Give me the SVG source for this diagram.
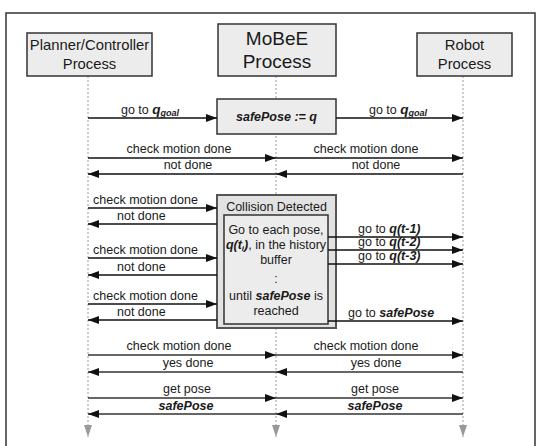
<svg xmlns="http://www.w3.org/2000/svg" width="542" height="446" viewBox="0 0 542 446">
<style>
text{font-family:"Liberation Sans",Arial,sans-serif;fill:#1a1a1a;}
.lbl{font-size:12.5px;text-anchor:middle;}
.lbls{font-size:12.5px;}
.hdr{font-size:14.8px;text-anchor:middle;}
.big{font-size:19px;text-anchor:middle;}
.bi{font-weight:bold;font-style:italic;}
.box{fill:#ececec;stroke:#333;stroke-width:1.5;}
.life{stroke:#999;stroke-width:1;stroke-dasharray:2,2;fill:none;}
.arr{stroke:#111;stroke-width:1.5;fill:none;marker-end:url(#ah);}
.arr2{stroke:#333;stroke-width:1.5;fill:none;marker-end:url(#ah);}
</style>
<defs>
<marker id="ah" markerUnits="userSpaceOnUse" markerWidth="11" markerHeight="8" refX="11" refY="4" orient="auto"><path d="M0,0 L11,4 L0,8 z" fill="#111"/></marker>
<marker id="gh" markerUnits="userSpaceOnUse" markerWidth="8" markerHeight="12" refX="4" refY="12" orient="0"><path d="M0,0 L8,0 L4,12 z" fill="#999"/></marker>
</defs>
<rect x="0" y="0" width="542" height="446" fill="#fff"/>
<rect x="6" y="13" width="529" height="445" fill="none" stroke="#333" stroke-width="1.5"/>

<g id="lifelines">
<line class="life" x1="88" y1="76" x2="88" y2="437" marker-end="url(#gh)"/>
<line class="life" x1="276" y1="76" x2="276" y2="437" marker-end="url(#gh)"/>
<line class="life" x1="463" y1="76" x2="463" y2="437" marker-end="url(#gh)"/>
</g>

<g id="planner">
<rect class="box" x="27" y="33" width="125" height="43"/>
<text class="hdr" x="89.5" y="50">Planner/Controller</text>
<text class="hdr" x="89.5" y="69">Process</text>
</g>
<g id="mobee">
<rect class="box" x="218" y="24" width="118" height="52"/>
<text class="big" x="277" y="45">MoBeE</text>
<text class="big" x="277" y="68">Process</text>
</g>
<g id="robot">
<rect class="box" x="417" y="33" width="95" height="43"/>
<text class="hdr" x="464.5" y="50">Robot</text>
<text class="hdr" x="464.5" y="69">Process</text>
</g>
<g id="safepose-box">
<rect class="box" x="217" y="99" width="119" height="35"/>
<text class="lbl bi" x="276.5" y="121">safePose := q</text>
</g>
<g id="collision">
<rect x="217" y="195" width="119" height="133" fill="#e2e2e2" stroke="#555" stroke-width="2"/>
<text class="lbl" x="276.5" y="211" font-size="13">Collision Detected</text>
<rect x="224" y="215" width="104" height="109" fill="#ececec" stroke="#333" stroke-width="1.5"/>
<text class="lbl" x="276" y="234">Go to each pose,</text>
<text class="lbl" x="276" y="249"><tspan class="bi">q(t</tspan><tspan class="bi" font-size="8" dy="2">i</tspan><tspan class="bi" dy="-2">)</tspan>, in the history</text>
<text class="lbl" x="276" y="264">buffer</text>
<text class="lbl" x="276" y="283">:</text>
<text class="lbl" x="276" y="300">until <tspan class="bi">safePose</tspan> is</text>
<text class="lbl" x="276" y="315">reached</text>
</g>

<g id="connectors">
<line class="arr" x1="88" y1="118" x2="217" y2="118"/>
<line class="arr" x1="336" y1="118" x2="463" y2="118"/>
<line class="arr" x1="88" y1="158" x2="276" y2="158"/>
<line class="arr" x1="276" y1="158" x2="463" y2="158"/>
<line class="arr" x1="276" y1="174" x2="88" y2="174"/>
<line class="arr" x1="463" y1="174" x2="276" y2="174"/>
<line class="arr" x1="88" y1="208" x2="217" y2="208"/>
<line class="arr" x1="217" y1="224" x2="88" y2="224"/>
<line class="arr" x1="88" y1="258" x2="217" y2="258"/>
<line class="arr" x1="217" y1="275" x2="88" y2="275"/>
<line class="arr" x1="88" y1="304" x2="217" y2="304"/>
<line class="arr" x1="217" y1="320" x2="88" y2="320"/>
<line class="arr" x1="328" y1="237" x2="463" y2="237"/>
<line class="arr" x1="328" y1="250" x2="463" y2="250"/>
<line class="arr" x1="328" y1="264" x2="463" y2="264"/>
<line class="arr" x1="328" y1="321" x2="463" y2="321"/>
<line class="arr2" x1="88" y1="355" x2="276" y2="355"/>
<line class="arr2" x1="276" y1="355" x2="463" y2="355"/>
<line class="arr2" x1="276" y1="372" x2="88" y2="372"/>
<line class="arr2" x1="463" y1="372" x2="276" y2="372"/>
<line class="arr2" x1="88" y1="398" x2="276" y2="398"/>
<line class="arr2" x1="276" y1="398" x2="463" y2="398"/>
<line class="arr2" x1="276" y1="414" x2="88" y2="414"/>
<line class="arr2" x1="463" y1="414" x2="276" y2="414"/>

<text class="lbl" x="150" y="114">go to <tspan class="bi" font-size="13.5">q</tspan><tspan class="bi" font-size="9" dy="2">goal</tspan></text>
<text class="lbl" x="398" y="114">go to <tspan class="bi" font-size="13.5">q</tspan><tspan class="bi" font-size="9" dy="2">goal</tspan></text>
<text class="lbl" x="179" y="153">check motion done</text>
<text class="lbl" x="366" y="153">check motion done</text>
<text class="lbl" x="188" y="169">not done</text>
<text class="lbl" x="376" y="169">not done</text>
<text class="lbls" x="93" y="204">check motion done</text>
<text class="lbls" x="117" y="220">not done</text>
<text class="lbls" x="93" y="254">check motion done</text>
<text class="lbls" x="117" y="271">not done</text>
<text class="lbls" x="93" y="300">check motion done</text>
<text class="lbls" x="117" y="316">not done</text>
<text class="lbls" x="358" y="233">go to <tspan class="bi">q(t-1)</tspan></text>
<text class="lbls" x="358" y="246">go to <tspan class="bi">q(t-2)</tspan></text>
<text class="lbls" x="358" y="260">go to <tspan class="bi">q(t-3)</tspan></text>
<text class="lbls" x="348" y="317">go to <tspan class="bi">safePose</tspan></text>
<text class="lbl" x="179" y="350">check motion done</text>
<text class="lbl" x="366" y="350">check motion done</text>
<text class="lbl" x="188" y="367">yes done</text>
<text class="lbl" x="376" y="367">yes done</text>
<text class="lbl" x="187" y="393">get pose</text>
<text class="lbl" x="375" y="393">get pose</text>
<text class="lbl bi" x="186" y="410">safePose</text>
<text class="lbl bi" x="375" y="410">safePose</text>
</g>
</svg>
